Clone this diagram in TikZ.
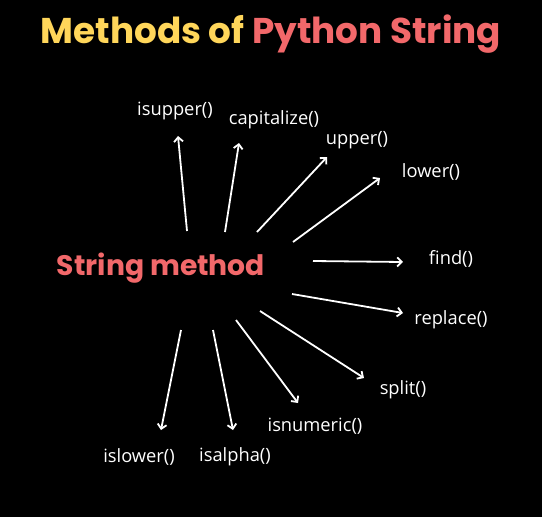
\documentclass[tikz,border=0pt]{standalone}
\usepackage{fontspec}
\usetikzlibrary{arrows.meta}
\newfontfamily\ttlfont{Poppins}
\newfontfamily\labfont{Open Sans}
\definecolor{ttlyellow}{RGB}{255,214,90}
\definecolor{ttlred}{RGB}{242,104,106}
\tikzset{
  lab/.style={text=white,font=\labfont\fontsize{18.3}{21}\selectfont,inner sep=0pt},
  arr/.style={draw=white,line width=1.8pt,-{Straight Barb[length=4.5pt,width=9pt,line width=1.8pt]}},
  ttl/.style={font=\ttlfont\bfseries\fontsize{35.8}{40}\selectfont,inner sep=0pt},
  hub/.style={text=ttlred,font=\ttlfont\bfseries\fontsize{28.2}{32}\selectfont,inner sep=0pt}
}
\begin{document}
\begin{tikzpicture}[x=1pt,y=-1pt]
\fill[black] (0,0) rectangle (542,517);
\useasboundingbox (0,0) rectangle (542,517);
\node[ttl] (title) at (271,34) {\textcolor{ttlyellow}{Methods of} \textcolor{ttlred}{Python String}};
\node[hub] (hub) at (161,268) {String method};
% labels
\node[lab] (isupper) at (175,111) {isupper()};
\node[lab] (capitalize) at (274,120) {capitalize()};
\node[lab] (upper) at (357,140) {upper()};
\node[lab] (lower) at (431,172) {lower()};
\node[lab] (find) at (451,259) {find()};
\node[lab] (replace) at (451,320) {replace()};
\node[lab] (split) at (403,390) {split()};
\node[lab] (isnumeric) at (315,426) {isnumeric()};
\node[lab] (islower) at (139,457) {islower()};
\node[lab] (isalpha) at (235,457) {isalpha()};
% arrow ends
\coordinate (s1) at (187,231); \coordinate (t1) at (178,136);
\coordinate (s2) at (225,232); \coordinate (t2) at (239,143);
\coordinate (s3) at (257,232); \coordinate (t3) at (327,157);
\coordinate (s4) at (293,242); \coordinate (t4) at (380,178);
\coordinate (s5) at (313,261); \coordinate (t5) at (403,262);
\coordinate (s6) at (292,294); \coordinate (t6) at (403,313);
\coordinate (s7) at (260,311); \coordinate (t7) at (364,378);
\coordinate (s8) at (236,320); \coordinate (t8) at (298,403);
\coordinate (s9) at (213,330); \coordinate (t9) at (233,430);
\coordinate (s10) at (181,330); \coordinate (t10) at (161,430);
\draw[arr] (s1) -- (t1);
\draw[arr] (s2) -- (t2);
\draw[arr] (s3) -- (t3);
\draw[arr] (s4) -- (t4);
\draw[arr] (s5) -- (t5);
\draw[arr] (s6) -- (t6);
\draw[arr] (s7) -- (t7);
\draw[arr] (s8) -- (t8);
\draw[arr] (s9) -- (t9);
\draw[arr] (s10) -- (t10);
\end{tikzpicture}
\end{document}
